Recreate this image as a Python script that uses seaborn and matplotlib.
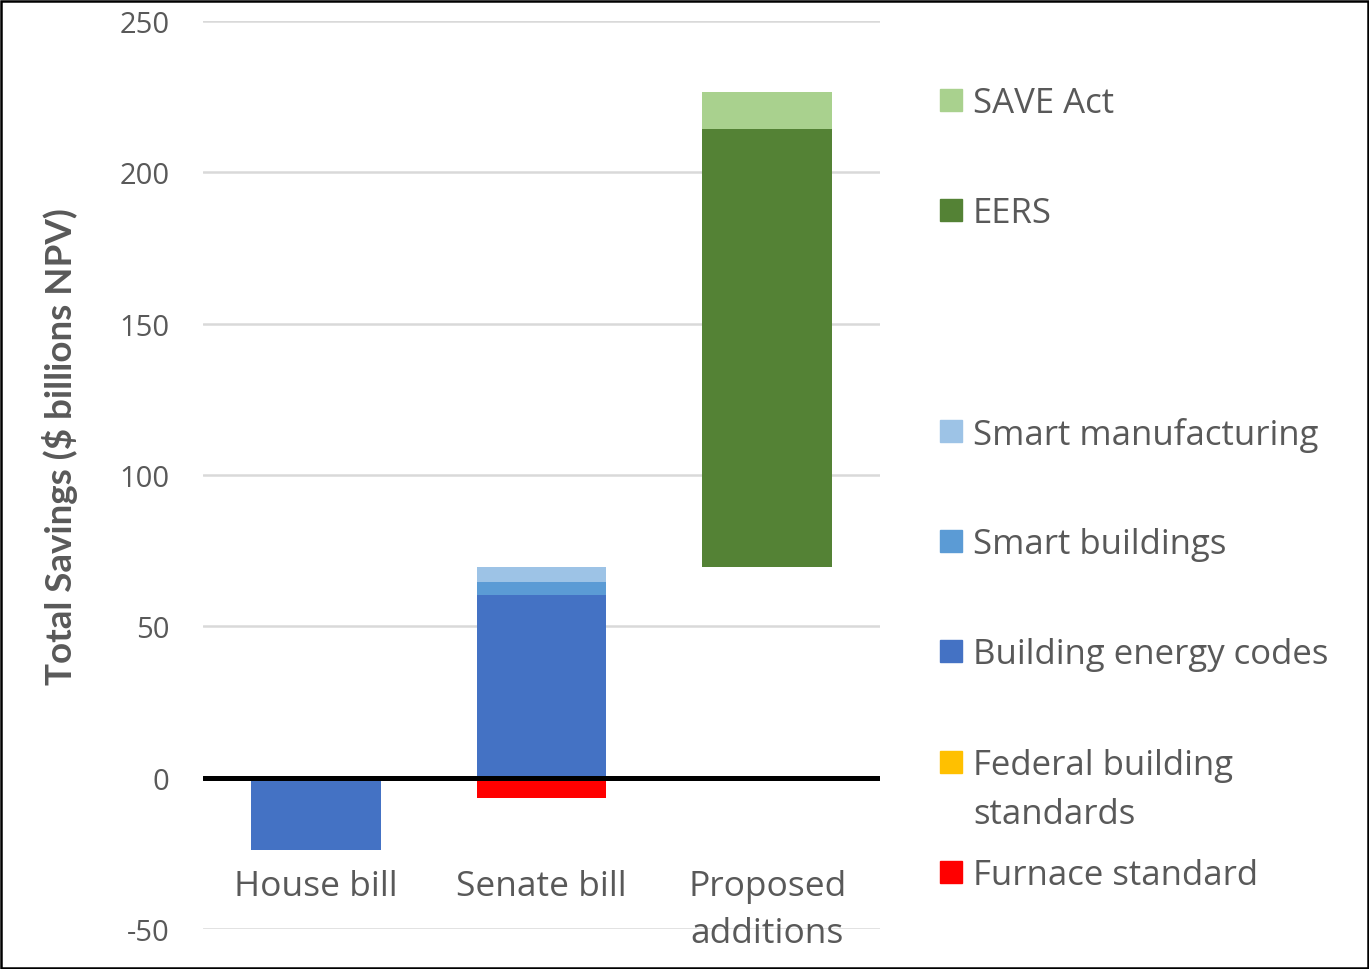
import seaborn as sns
import pandas as pd
import matplotlib.pyplot as plt
import numpy as np
from matplotlib.patches import Rectangle

categories = ["House bill", "Senate bill", "Proposed\nadditions"]

# series values per category ($ billions NPV), bottom of stack first
furnace = [0, -6.6, 0]
federal = [0, 0, 0]
codes = [-24, 60.5, 0]
smart_bldg = [0, 4.0, 0]
smart_mfg = [0, 5.0, 0]
base = [0, 0, 69.5]   # invisible floating base
eers = [0, 0, 144.8]
save = [0, 0, 12.2]

series = [
    ("Furnace standard", furnace, "#FF0000"),
    ("Federal building\nstandards", federal, "#FFC000"),
    ("Building energy codes", codes, "#4472C4"),
    ("Smart buildings", smart_bldg, "#5B9BD5"),
    ("Smart manufacturing", smart_mfg, "#9DC3E6"),
    ("", base, "none"),
    ("EERS", eers, "#548235"),
    ("SAVE Act", save, "#A9D18E"),
]

yticks = [-50, 0, 50, 100, 150, 200, 250]

grey = "#595959"
sns.set_theme(style="white")
plt.rcParams["font.family"] = ["Open Sans", "DejaVu Sans"]

fig = plt.figure(figsize=(13.69, 9.7), dpi=100)
ax = fig.add_axes([0.1483, 0.0412, 0.4945, 0.9361])

pos_top = np.zeros(len(categories))
neg_top = np.zeros(len(categories))
for name, vals, col in series:
    vals = np.array(vals, dtype=float)
    bottom = np.where(vals >= 0, pos_top, neg_top)
    df = pd.DataFrame({"cat": categories, "val": vals})
    if col != "none":
        sns.barplot(ax=ax, data=df, x="cat", y="val", order=categories,
                    color=col, saturation=1, width=0.574, bottom=bottom,
                    errorbar=None, linewidth=0, zorder=3)
    pos_top = np.where(vals >= 0, pos_top + vals, pos_top)
    neg_top = np.where(vals < 0, neg_top + vals, neg_top)

ax.set_xlim(-0.5, 2.5)
ax.set_ylim(-50, 250)
ax.set_yticks(yticks)
ax.set_yticklabels([str(t) for t in yticks], fontsize=21, color=grey)
ax.tick_params(axis="y", length=0, pad=24)
ax.grid(axis="y", color="#D9D9D9", lw=1.8, zorder=0)
ax.set_axisbelow(True)
ax.axhline(0, color="black", lw=3.6, zorder=4)
for s in ax.spines.values():
    s.set_visible(False)

# category labels sit under the zero line
ax.set_xticks(range(len(categories)))
ax.set_xticklabels([])
ax.tick_params(axis="x", length=0)
for i, c in enumerate(categories):
    ax.text(i, -30.3, c, ha="center", va="top", fontsize=25.5, color=grey,
            linespacing=1.5)
ax.set_xlabel("")

ax.set_ylabel("Total Savings ($ billions NPV)", fontsize=26.5, fontweight="bold",
              color=grey, family=["Lato", "DejaVu Sans"])
ax.yaxis.set_label_coords(-0.185, 0.532)

# legend drawn as an Excel-style list on the right
legend_rows = [101, 211, 321, 432, 542, 652, 763, 873]
for (name, vals, col), ypx in zip(series[::-1], legend_rows):
    if col == "none":
        continue
    yf = 1 - ypx / 970
    fig.patches.append(Rectangle((940 / 1369, yf - 11 / 970), 22 / 1369, 22 / 970,
                                 transform=fig.transFigure, color=col))
    fig.text(973 / 1369, yf + 14 / 970, name, ha="left", va="top",
             fontsize=25, color=grey, linespacing=1.58)

fig.patches.append(Rectangle((0.0008, 0.001), 0.9984, 0.997, transform=fig.transFigure,
                             fill=False, edgecolor="black", lw=1.8))

fig.savefig("out.png", dpi=100)
